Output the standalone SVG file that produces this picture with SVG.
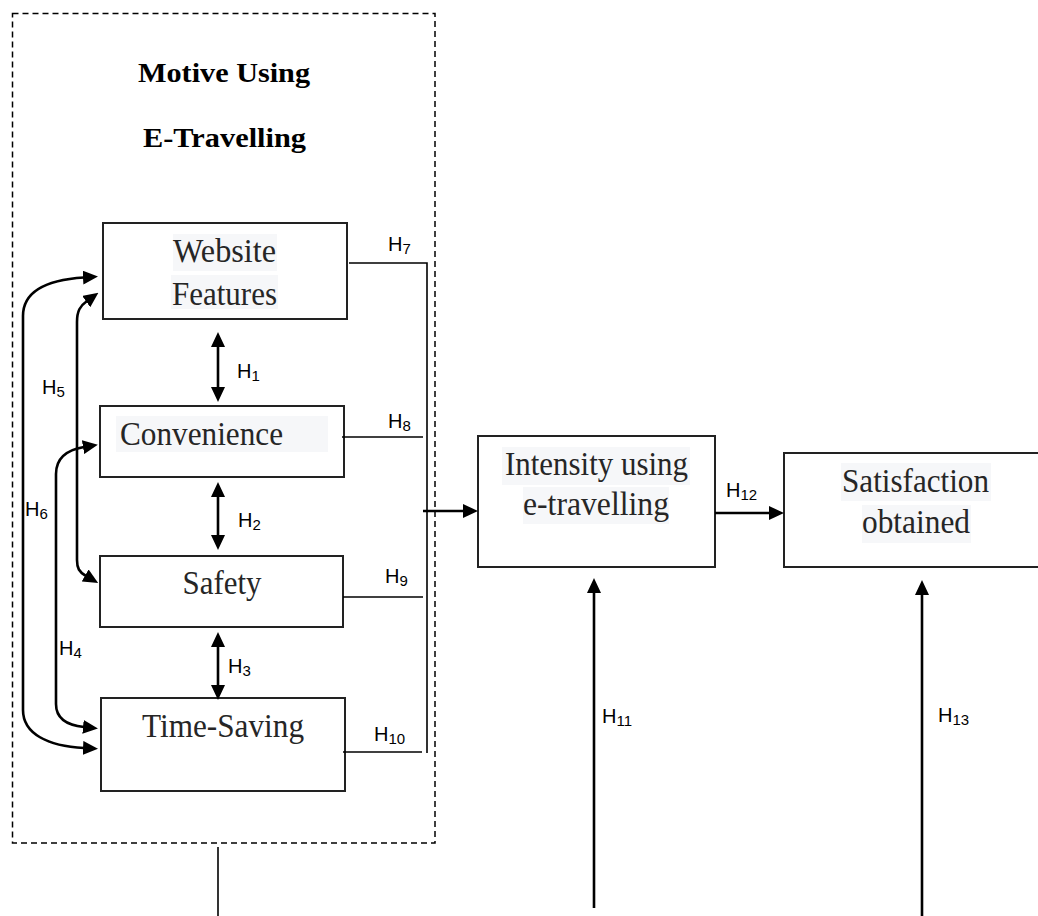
<svg xmlns="http://www.w3.org/2000/svg" width="1038" height="916" viewBox="0 0 1038 916">
<defs>
<style>
.box{fill:#fff;stroke:#222;stroke-width:2}
.hl{fill:#f6f7f9;stroke:none}
.nt{font-family:"Liberation Serif","Times New Roman",serif;font-size:33px;fill:#262626;text-anchor:middle}
.ttl{font-family:"Liberation Serif","Times New Roman",serif;font-size:28px;font-weight:bold;fill:#000;text-anchor:middle}
.h{font-family:"Liberation Sans",Arial,sans-serif;font-size:20px;fill:#000}
.sub{font-size:15px}
.thin{fill:none;stroke:#000;stroke-width:1.6}
.arr{fill:none;stroke:#000;stroke-width:2.6}
.dash{fill:none;stroke:#000;stroke-width:1.5;stroke-dasharray:6 4}
</style>
<marker id="ah" markerUnits="userSpaceOnUse" markerWidth="15" markerHeight="14" viewBox="0 0 15 14" refX="1" refY="7" orient="auto-start-reverse">
<path d="M0,0 L15,7 L0,14 z" fill="#000"/>
</marker>
</defs>
<rect x="0" y="0" width="1038" height="916" fill="#fff"/>

<g id="motive-group">
<rect class="dash" x="12.5" y="13.5" width="422.5" height="829.5"/>
<text class="ttl" x="224" y="82" textLength="172" lengthAdjust="spacingAndGlyphs">Motive Using</text>
<text class="ttl" x="224.5" y="147" textLength="163" lengthAdjust="spacingAndGlyphs">E-Travelling</text>
</g>

<g id="website-features">
<rect class="box" x="103" y="223" width="244" height="96"/>
<rect class="hl" x="173" y="234" width="104" height="37"/>
<rect class="hl" x="171" y="275" width="107" height="34"/>
<text class="nt" x="224.5" y="262" textLength="103" lengthAdjust="spacingAndGlyphs">Website</text>
<text class="nt" x="224.5" y="305" textLength="105" lengthAdjust="spacingAndGlyphs">Features</text>
</g>

<g id="convenience">
<rect class="box" x="100" y="406" width="244" height="71"/>
<rect class="hl" x="116" y="416" width="212" height="36"/>
<text class="nt" x="201.5" y="445" textLength="163" lengthAdjust="spacingAndGlyphs">Convenience</text>
</g>

<g id="safety">
<rect class="box" x="100" y="556" width="243" height="71"/>
<text class="nt" x="222" y="594" textLength="79" lengthAdjust="spacingAndGlyphs">Safety</text>
</g>

<g id="time-saving">
<rect class="box" x="101" y="698" width="244" height="93"/>
<text class="nt" x="223" y="737" textLength="162" lengthAdjust="spacingAndGlyphs">Time-Saving</text>
</g>

<g id="intensity">
<rect class="box" x="478" y="436" width="237" height="131"/>
<rect class="hl" x="502" y="447" width="188" height="38"/>
<rect class="hl" x="523" y="487" width="146" height="37"/>
<text class="nt" x="596.5" y="475" textLength="183" lengthAdjust="spacingAndGlyphs">Intensity using</text>
<text class="nt" x="596" y="515" textLength="146" lengthAdjust="spacingAndGlyphs">e-travelling</text>
</g>

<g id="satisfaction">
<rect class="box" x="784" y="453" width="270" height="114"/>
<rect class="hl" x="841" y="463" width="150" height="38"/>
<rect class="hl" x="862" y="505" width="109" height="38"/>
<text class="nt" x="915.5" y="492" textLength="147" lengthAdjust="spacingAndGlyphs">Satisfaction</text>
<text class="nt" x="916" y="533" textLength="108" lengthAdjust="spacingAndGlyphs">obtained</text>
</g>

<g id="connectors">
<path class="thin" d="M349,263 H427 V753"/>
<path class="thin" d="M342,437 H423"/>
<path class="thin" d="M343,597 H423"/>
<path class="thin" d="M343,752 H422"/>
<path class="thin" d="M218,847 V916"/>

<path class="arr" d="M218,346 V388" marker-start="url(#ah)" marker-end="url(#ah)"/>
<path class="arr" d="M218,496 V536" marker-start="url(#ah)" marker-end="url(#ah)"/>
<path class="arr" d="M218,646 V686" marker-start="url(#ah)" marker-end="url(#ah)"/>

<path class="arr" d="M84,277.5 C45,280 23,292 23,316 L23,710 C23,734 48,746 84,748" marker-start="url(#ah)" marker-end="url(#ah)"/>
<path class="arr" d="M87,301 C80,306 77,311 77,322 L77,560 C77,568 79,572 86,576" marker-start="url(#ah)" marker-end="url(#ah)"/>
<path class="arr" d="M84,447 C66,450 56,459 56,474 L56,704 C56,717 64,725 84,727" marker-start="url(#ah)" marker-end="url(#ah)"/>

<path class="arr" d="M423,511 H464" marker-end="url(#ah)"/>
<path class="arr" d="M715,513 H770" marker-end="url(#ah)"/>
<path class="arr" d="M594,908 V592" marker-end="url(#ah)"/>
<path class="arr" d="M922,916 V594" marker-end="url(#ah)"/>
</g>

<g id="labels">
<text class="h" x="388" y="251">H<tspan class="sub" dy="3">7</tspan></text>
<text class="h" x="237" y="378">H<tspan class="sub" dy="3">1</tspan></text>
<text class="h" x="388" y="428">H<tspan class="sub" dy="3">8</tspan></text>
<text class="h" x="42" y="394">H<tspan class="sub" dy="3">5</tspan></text>
<text class="h" x="25" y="516">H<tspan class="sub" dy="3">6</tspan></text>
<text class="h" x="238" y="527">H<tspan class="sub" dy="3">2</tspan></text>
<text class="h" x="385" y="583">H<tspan class="sub" dy="3">9</tspan></text>
<text class="h" x="59" y="655">H<tspan class="sub" dy="3">4</tspan></text>
<text class="h" x="228" y="673">H<tspan class="sub" dy="3">3</tspan></text>
<text class="h" x="374" y="741">H<tspan class="sub" dy="3">10</tspan></text>
<text class="h" x="726" y="497">H<tspan class="sub" dy="3">12</tspan></text>
<text class="h" x="602" y="723">H<tspan class="sub" dy="3">11</tspan></text>
<text class="h" x="938" y="722">H<tspan class="sub" dy="3">13</tspan></text>
</g>
</svg>
